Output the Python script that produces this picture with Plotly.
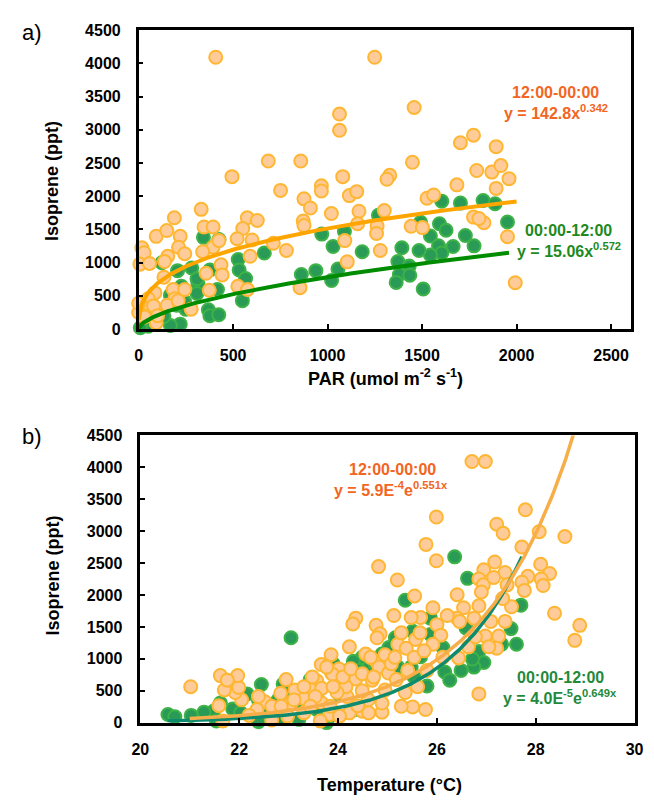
import numpy as np
import plotly.graph_objects as go

# ---------------- Panel a data (PAR vs isoprene) ----------------
a_day_par = [408, 1249, 1063, 1063, 1458, 1772, 1703, 1892, 686, 858, 1449, 494, 1080, 1329, 1314,
             1789, 1869, 1917, 1960, 1684, 1892, 751, 967, 967, 875, 1115, 1154, 1526, 1561, 909,
             1020, 1166, 1300, 331, 189, 575, 628, 346, 394, 871, 875, 1159, 1262, 1772, 1827,
             1801, 1442, 1502, 1259, 1091, 93, 149, 220, 551, 521, 600, 394, 425, 211, 244,
             17, 29, 154, 137, 7, 58, 339, 713, 782, 590, 1279, 1104, 436, 357, 442,
             1952, 1993, 854, 525, 576, 374, 183, 244, 192, 134, 86, 51, 17, 0, 79,
             151, 209, 278, 93, 100, 31, 0]
a_day_iso = [4093, 4093, 3238, 2993, 3337, 2919, 2806, 2747, 2531, 2531, 2511, 2295, 2295, 2315, 2256,
             2388, 2364, 2462, 2265, 2172, 2118, 2088, 2157, 2079, 1961, 2010, 2069, 1970, 2020, 1823,
             1740, 1774, 1784, 1803, 1676, 1676, 1636, 1538, 1538, 1627, 1558, 1587, 1553, 1686, 1602,
             1666, 1548, 1528, 1440, 1332, 1396, 1484, 1396, 1514, 1361, 1342, 1233, 1332, 1233, 1135,
             1224, 1150, 1096, 1017, 978, 988, 1165, 1292, 1184, 1096, 1184, 1012, 968, 840, 816,
             1391, 698, 624, 644, 595, 585, 595, 595, 457, 781, 545, 457, 349, 250, 349,
             359, 428, 300, 93, 201, 182, 388]

a_night_par = [1604, 1703, 1823, 1886, 1952, 1592, 1627, 1544, 1729, 1587, 1664, 1775, 1604, 1544, 1484,
               1393, 1183, 1029, 969, 1089, 1269, 1492, 1372, 1432, 1380, 1435, 1363, 1506, 1055, 1021,
               938, 861, 665, 527, 532, 566, 549, 343, 425, 123, 206, 281, 314, 377, 417,
               369, 377, 424, 309, 226, 168, 202, 249, 220, 168, 113, 51, 9, 60, 134,
               309, 243]
a_night_iso = [1926, 1897, 1936, 1887, 1612, 1587, 1489, 1401, 1410, 1253, 1243, 1253, 1145, 1115, 1184,
               1224, 1165, 1243, 1430, 1469, 1715, 1607, 1017, 948, 821, 811, 703, 604, 904, 732,
               880, 821, 1145, 1047, 889, 762, 428, 1381, 1347, 998, 880, 919, 683, 889, 595,
               290, 201, 216, 536, 644, 511, 359, 300, 74, 54, 172, 44, 20, 143, 192,
               757, 413]

# ---------------- Panel b data (temperature vs isoprene) ----------------
b_day_temp = [26.71, 26.98, 27.79, 25.99, 27.21, 27.34, 28.07, 28.59, 25.78, 25.99, 27.72, 27.17, 26.95, 27.38, 28.10,
              28.28, 28.11, 28.15, 27.84, 27.72, 27.77, 26.85, 26.94, 27.15, 24.82, 25.20, 25.55, 26.41, 26.90, 28.38,
              28.89, 28.79, 26.85, 27.38, 27.51, 27.09, 27.25, 26.98, 27.21, 27.05, 26.75, 26.85, 26.54, 26.41, 26.21,
              25.92, 26.00, 26.08, 25.67, 25.48, 25.13, 24.36, 24.30, 24.77, 24.85, 24.23, 24.56, 23.86, 23.66, 23.87,
              24.02, 24.36, 24.77, 24.95, 24.83, 25.02, 25.21, 25.38, 25.57, 25.66, 25.92, 26.12, 26.44, 26.64, 26.78,
              25.18, 25.51, 25.77, 25.61, 25.36, 24.95, 24.61, 24.89, 24.49, 24.18, 24.16, 23.89, 23.57, 23.44, 23.31,
              23.13, 22.95, 22.84, 22.52, 22.36, 22.05, 21.92, 21.99, 21.70, 21.62, 21.97, 21.76, 21.59, 21.02, 23.84,
              23.64, 23.31, 22.66, 22.20, 21.67, 24.23, 24.49, 24.89, 23.67, 23.98, 24.40, 24.69, 23.67, 23.05, 22.79,
              24.79, 25.28, 26.46, 27.33, 27.42,
              23.31, 23.48, 23.77, 24.10, 24.26, 24.49, 24.66, 24.72, 25.08, 25.15, 25.41, 25.54, 25.74, 25.80, 23.90,
              23.54, 23.11, 22.66, 22.39, 22.98, 24.03, 23.84, 24.62, 25.28, 23.44, 22.85]
b_day_iso = [4092, 4092, 3335, 3222, 3110, 2967, 2992, 2916, 2793, 2537, 2752, 2517, 2394, 2353, 2481,
             2338, 2251, 2148, 2292, 2200, 2072, 2251, 2159, 2276, 2445, 2235, 1985, 2005, 2046, 1714,
             1524, 1289, 450, 1586, 1816, 1586, 1356, 1356, 1166, 1187, 1637, 1831, 1800, 1637, 1678,
             1800, 1535, 1371, 1647, 1647, 1678, 1637, 1545, 1524, 1391, 1187, 1074, 1064, 910, 777,
             839, 685, 962, 1064, 870, 777, 1228, 1166, 1304, 1407, 1228, 1023, 1013, 1187, 1345,
             674, 246, 205, 563, 471, 512, 358, 164, 501, 409, 563, 757, 655, 522, 379,
             512, 675, 460, 327, 205, 358, 471, 552, 512, 737, 737, 665, 266, 563, 128,
             26, 153, 41, 113, 26, 153, 179, 307, 307, 471, 266, 665, 537, 307, 230,
             1330, 1407, 1586, 1944, 2159,
             563, 716, 870, 716, 844, 767, 1023, 716, 921, 1023, 818, 1023, 1125, 818, 563,
             409, 358, 256, 409, 102, 102, 256, 153, 256, 256, 256]

b_night_temp = [26.36, 26.62, 25.36, 27.70, 23.05, 27.50, 27.61, 27.31, 26.59, 25.87, 25.51, 25.87, 26.85, 26.95, 26.75,
                26.49, 26.16, 26.26, 25.80, 26.12, 25.67, 25.48, 25.02, 25.03, 24.49, 24.31, 24.20, 24.62, 23.97, 23.61,
                23.44, 23.32, 22.89, 22.45, 22.79, 22.39, 22.16, 21.62, 21.48, 21.29, 21.03, 20.56, 20.70, 21.87, 22.03,
                22.52, 22.89, 23.21, 22.39, 21.54, 23.57, 23.77, 25.16, 24.89, 22.95, 24.03, 26.72,
                23.18, 23.90, 24.43, 24.75, 25.21, 25.54, 23.31, 22.85, 23.84, 24.36]
b_night_iso = [2598, 2261, 1918, 1841, 1330, 1473, 1228, 1228, 1483, 1637, 1432, 1381, 1115, 941, 870,
               818, 793, 665, 573, 1176, 1033, 870, 1074, 1176, 1023, 962, 818, 870, 757, 512,
               675, 512, 604, 598, 358, 358, 450, 307, 179, 164, 113, 128, 92, 215, 153,
               164, 205, 51, 15, 26, 205, 0, 1330, 1074, 450, 435, 997,
               358, 921, 818, 921, 870, 716, 205, 77, 102, 205]

# ---------------- Fit coefficients (as printed on the chart) ----------------
a_day_fit = (142.8, 0.342)     # y = a * x^b, 12:00-00:00
a_night_fit = (15.06, 0.572)   # 00:00-12:00
b_day_fit = (5.9e-4, 0.551)    # y = a * e^(b x)
b_night_fit = (4.0e-5, 0.649)

a_day_fit_range = (1, 2000)
a_night_fit_range = (1, 1960)
b_day_fit_range = (21.0, 28.9)
b_night_fit_range = (20.55, 27.72)

# ---------------- Styling ----------------
ORANGE_FILL = "#FFCC99"
ORANGE_EDGE = "#FFB733"
GREEN_FILL = "#2A9A57"
GREEN_EDGE = "#3DB347"
FONT = "Liberation Sans, Arial, sans-serif"

W, H = 654, 806

def px(x):
    return x / W

def py(y):
    return 1 - y / H

fig = go.Figure()

def add_markers(x, y, xa, ya, fill, edge):
    fig.add_trace(go.Scatter(
        x=x, y=y, mode="markers", xaxis=xa, yaxis=ya, cliponaxis=False,
        marker=dict(size=13, color=fill, line=dict(color=edge, width=2)),
        showlegend=False, hoverinfo="skip"))

# Panel a
add_markers(a_night_par, a_night_iso, "x", "y", GREEN_FILL, GREEN_EDGE)
add_markers(a_day_par, a_day_iso, "x", "y", ORANGE_FILL, ORANGE_EDGE)
xs = np.linspace(*a_day_fit_range, 300)
fig.add_trace(go.Scatter(x=xs, y=a_day_fit[0] * xs ** a_day_fit[1], mode="lines", xaxis="x", yaxis="y",
                         line=dict(color="#FFA500", width=4), showlegend=False, hoverinfo="skip"))
xs = np.linspace(*a_night_fit_range, 300)
fig.add_trace(go.Scatter(x=xs, y=a_night_fit[0] * xs ** a_night_fit[1], mode="lines", xaxis="x", yaxis="y",
                         line=dict(color="#008C00", width=4), showlegend=False, hoverinfo="skip"))

# Panel b
add_markers(b_night_temp, b_night_iso, "x2", "y2", GREEN_FILL, GREEN_EDGE)
add_markers(b_day_temp, b_day_iso, "x2", "y2", ORANGE_FILL, ORANGE_EDGE)
xs = np.linspace(*b_night_fit_range, 300)
fig.add_trace(go.Scatter(x=xs, y=b_night_fit[0] * np.exp(b_night_fit[1] * xs), mode="lines", xaxis="x2", yaxis="y2",
                         line=dict(color="#0E8A6E", width=3.5), showlegend=False, hoverinfo="skip"))
xs = np.linspace(*b_day_fit_range, 300)
fig.add_trace(go.Scatter(x=xs, y=b_day_fit[0] * np.exp(b_day_fit[1] * xs), mode="lines", xaxis="x2", yaxis="y2",
                         line=dict(color="#F7AD48", width=3.5), showlegend=False, hoverinfo="skip"))

axis_common = dict(showline=True, linecolor="black", linewidth=2.5, mirror=True, ticks="inside",
                   ticklen=5, tickwidth=2, tickcolor="black", showgrid=False, zeroline=False,
                   tickfont=dict(family=FONT, size=16, color="black", weight="bold"))

fig.update_layout(
    width=W, height=H, margin=dict(l=0, r=0, t=0, b=0),
    paper_bgcolor="white", plot_bgcolor="white",
    xaxis=dict(domain=[px(133.3), px(639.3)], range=[0, 2604], tickvals=[0, 500, 1000, 1500, 2000, 2500],
               anchor="y", ticklabelstandoff=10, **axis_common),
    yaxis=dict(domain=[py(328), py(22.7)], range=[0, 4500], tickvals=list(range(0, 4501, 500)),
               anchor="x", ticklabelstandoff=12, **axis_common),
    xaxis2=dict(domain=[px(135), px(643.3)], range=[20, 30], tickvals=[20, 22, 24, 26, 28, 30],
                anchor="y2", ticklabelstandoff=10, **axis_common),
    yaxis2=dict(domain=[py(730), py(436.7)], range=[0, 4500], tickvals=list(range(0, 4501, 500)),
                anchor="x2", ticklabelstandoff=12, **axis_common),
)

def ann(x, y, text, size=16, color="black", bold=True, angle=0, xanchor="center"):
    fig.add_annotation(x=px(x), y=py(y), xref="paper", yref="paper", text=text, showarrow=False,
                       textangle=angle, xanchor=xanchor, yanchor="middle",
                       font=dict(family=FONT, size=size, color=color, weight="bold" if bold else "normal"))

# Panel labels
ann(24, 25, "a)", size=22, bold=False)
ann(24, 438, "b)", size=22, bold=False)

# Axis titles
ann(45, 177, "Isoprene (ppt)", size=18, angle=-90)
ann(45, 580, "Isoprene (ppt)", size=18, angle=-90)
ann(387, 377, "PAR (umol m<sup>-2</sup> s<sup>-1</sup>)", size=18)
ann(391, 794, "Temperature (°C)", size=18)

# Fit labels
RED_ORANGE = "#F26522"
GREEN_TXT = "#1E8A1E"
GREEN_TXT_B = "#1F8A3C"
ann(562, 86, "12:00-00:00", color=RED_ORANGE)
ann(562, 106, "y = 142.8x<sup>0.342</sup>", color=RED_ORANGE)
ann(575, 227, "00:00-12:00", color=GREEN_TXT)
ann(576, 247, "y = 15.06x<sup>0.572</sup>", color=GREEN_TXT)
ann(394, 471, "12:00-00:00", color=RED_ORANGE)
ann(393, 491, "y = 5.9E<sup>-4</sup>e<sup>0.551x</sup>", color=RED_ORANGE)
ann(567, 684, "00:00-12:00", color=GREEN_TXT_B)
ann(567, 704, "y = 4.0E<sup>-5</sup>e<sup>0.649x</sup>", color=GREEN_TXT_B)

fig.write_html("out.html")
